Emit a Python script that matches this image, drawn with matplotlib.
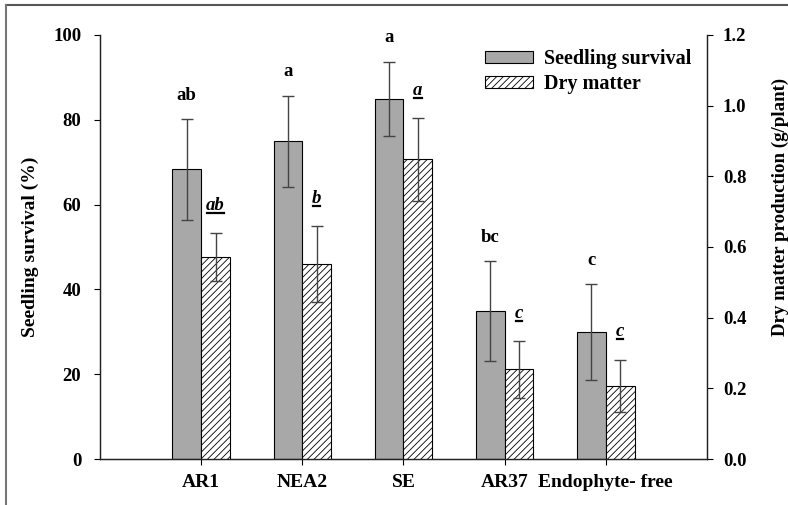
import numpy as np
import matplotlib
matplotlib.use("Agg")
import matplotlib.pyplot as plt
from matplotlib.lines import Line2D

plt.rcParams['font.family'] = ['Liberation Serif', 'DejaVu Serif']
plt.rcParams['font.weight'] = 'bold'
plt.rcParams['hatch.linewidth'] = 0.6

# data
categories = ["AR1", "NEA2", "SE", "AR37", "Endophyte- free"]
survival = [68.3, 74.9, 84.9, 34.9, 30.0]          # %
survival_err = [11.9, 10.8, 8.8, 11.8, 11.3]
dry_matter = [0.572, 0.551, 0.848, 0.254, 0.207]   # g/plant
dry_matter_err = [0.067, 0.108, 0.117, 0.080, 0.074]
survival_letters = ["ab", "a", "a", "bc", "c"]
dry_letters = ["ab", "b", "a", "c", "c"]


def underline(fig, texts):
    """Draw a line under each text (matplotlib has no underline style)."""
    fig.canvas.draw()
    renderer = fig.canvas.get_renderer()
    inv = fig.transFigure.inverted()
    for t in texts:
        bb = t.get_window_extent(renderer)
        (x0, y0), (x1, _) = inv.transform([(bb.x0 + 1, bb.y0 + 1), (bb.x1 - 1, bb.y0)])
        fig.add_artist(Line2D([x0, x1], [y0, y0], transform=fig.transFigure,
                              color="black", linewidth=1.6))


def plot_figure(save=True):
    fig = plt.figure(figsize=(7.88, 5.05), dpi=100)
    ax = fig.add_axes([0.127, 0.091, 0.770, 0.840])
    ax2 = ax.twinx()

    x = np.arange(len(categories))
    w = 0.285
    err_kw = dict(ecolor="#444444", elinewidth=1.0, capsize=4.5, capthick=1.0)

    b1 = ax.bar(x - w / 2, survival, w, yerr=survival_err, color="#a8a8a8",
                edgecolor="black", linewidth=0.8, error_kw=err_kw,
                label="Seedling survival")
    b2 = ax2.bar(x + w / 2, dry_matter, w, yerr=dry_matter_err, color="white",
                 edgecolor="black", linewidth=0.8, hatch="/////", error_kw=err_kw,
                 label="Dry matter")

    # significance letters
    dry_texts = []
    for i in range(len(categories)):
        ax.annotate(survival_letters[i], (x[i] - w / 2, survival[i] + survival_err[i]),
                    xytext=(0, 17), textcoords="offset points",
                    ha="center", va="center", fontsize=13.5, fontweight="bold")
        t = ax2.annotate(dry_letters[i],
                         (x[i] + w / 2, dry_matter[i] + dry_matter_err[i]),
                         xytext=(0, 20), textcoords="offset points",
                         ha="center", va="center", fontsize=13.5,
                         fontweight="bold", fontstyle="italic")
        dry_texts.append(t)

    ax.set_xlim(-1, 5)
    ax.set_ylim(0, 100)
    ax2.set_ylim(0, 1.2)
    ax.set_xticks(x)
    ax.set_xticklabels(categories)
    ax.set_yticks(np.arange(0, 101, 20))
    ax2.set_yticks(np.arange(0, 1.21, 0.2))
    ax2.set_yticklabels(["%.1f" % v for v in np.arange(0, 1.21, 0.2)])

    ax.spines["top"].set_visible(False)
    ax2.spines["top"].set_visible(False)
    for a in (ax, ax2):
        for s in a.spines.values():
            s.set_linewidth(0.9)
            s.set_color("#222222")

    ax.tick_params(axis="y", direction="out", length=4.5, pad=9, labelsize=13.5)
    ax.tick_params(axis="x", direction="out", length=4.5, pad=6, labelsize=14)
    ax2.tick_params(axis="y", direction="out", length=4.5, pad=7, labelsize=13.5)

    ax.set_ylabel("Seedling survival (%)", fontsize=14, fontweight="bold", labelpad=10)
    ax2.set_ylabel("Dry matter production (g/plant)", fontsize=13.6, fontweight="bold",
                   labelpad=18)
    ax2.yaxis.label.set_y(0.594)   # the right label sits above the middle

    ax2.legend([b1, b2], ["Seedling survival", "Dry matter"], loc="upper left",
               bbox_to_anchor=(0.621, 0.985), frameon=False, fontsize=14.5,
               handlelength=2.4, handleheight=0.55, handletextpad=0.55,
               labelspacing=0.25, borderaxespad=0)

    # partial frame around the figure (top and left edges)
    fig.add_artist(Line2D([0.0076, 1.0], [0.991, 0.991], transform=fig.transFigure,
                          color="#555555", linewidth=1.5))
    fig.add_artist(Line2D([0.0076, 0.0076], [0.0, 0.991], transform=fig.transFigure,
                          color="#777777", linewidth=1.5))

    underline(fig, dry_texts)

    if save == True:
        fig.savefig("out.png", dpi=100)


if __name__ == "__main__":
    plot_figure(True)
